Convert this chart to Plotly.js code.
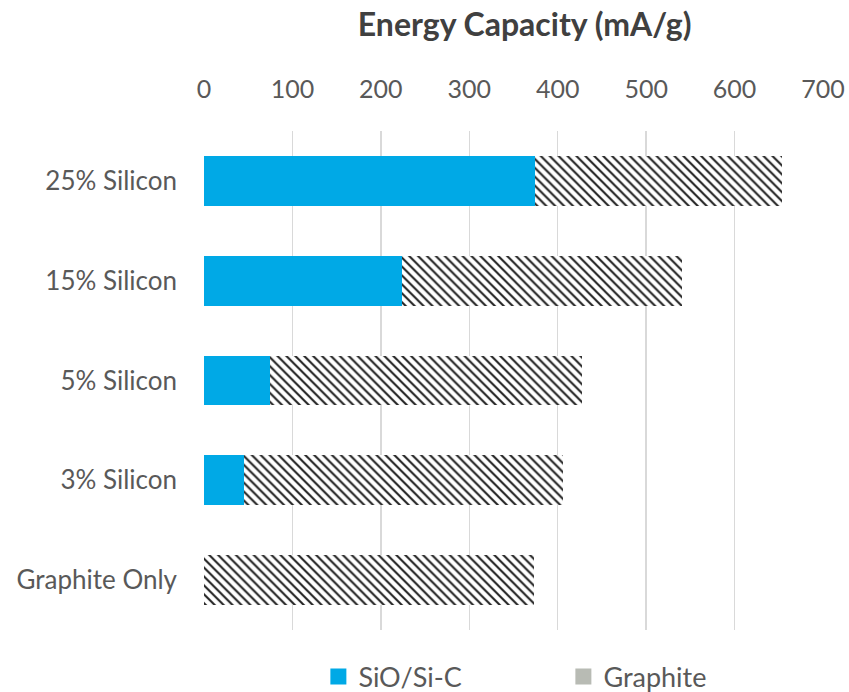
<!DOCTYPE html>
<html>
<head>
<meta charset="utf-8">
<script src="https://cdn.plot.ly/plotly-3.0.1.min.js"></script>
<style>
  html, body { margin: 0; padding: 0; background: #ffffff; }
  #chart { width: 849px; height: 692px; }
</style>
</head>
<body>
<div id="chart"></div>
<script>
// Samples, listed bottom to top as Plotly places horizontal categories
const categories = ['Graphite Only', '3% Silicon', '5% Silicon', '15% Silicon', '25% Silicon'];
// Capacity contributed by the silicon phase (mA/g)
const sioValues = [0, 45, 75, 224, 374];
// Capacity contributed by graphite (mA/g)
const graphiteValues = [373, 361, 353, 317, 280];
const xTicks = [0, 100, 200, 300, 400, 500, 600, 700];

const blue = '#00a9e6';
const legendGray = '#b8bbb4';
const font = 'Lato, "Open Sans", sans-serif';

const traces = [
  {
    type: 'bar', orientation: 'h', name: 'SiO/Si-C',
    y: categories, x: sioValues,
    marker: { color: blue, line: { width: 0 } },
    showlegend: false, hoverinfo: 'x+name'
  },
  {
    type: 'bar', orientation: 'h', name: 'Graphite',
    y: categories, x: graphiteValues,
    marker: {
      color: '#ffffff',
      line: { width: 0 },
      pattern: { shape: '\\', fgcolor: '#1e1e1e', bgcolor: '#ffffff', size: 6.3, solidity: 0.32, fillmode: 'replace' }
    },
    showlegend: false, hoverinfo: 'x+name'
  },
  // legend keys (solid squares)
  {
    type: 'scatter', mode: 'markers', name: 'SiO/Si-C',
    x: [null], y: [null],
    marker: { symbol: 'square', size: 16, color: blue },
    hoverinfo: 'skip'
  },
  {
    type: 'scatter', mode: 'markers', name: 'Graphite',
    x: [null], y: [null],
    marker: { symbol: 'square', size: 16, color: legendGray },
    hoverinfo: 'skip'
  }
];

const layout = {
  width: 849, height: 692,
  margin: { l: 203.5, r: 25.7, t: 131, b: 62, pad: 0 },
  paper_bgcolor: '#ffffff', plot_bgcolor: '#ffffff',
  barmode: 'stack', bargap: 0.5,
  font: { family: font, color: '#595959' },
  title: {
    text: '<b>Energy Capacity (mA/g)</b>',
    font: { family: font, size: 32, color: '#404040' },
    xref: 'container', x: 0.618, xanchor: 'center',
    yref: 'container', y: 0.964, yanchor: 'middle'
  },
  xaxis: {
    side: 'top', range: [0, 700],
    tickvals: xTicks, ticktext: xTicks.map(String),
    showgrid: true, gridcolor: '#d9d9d9', gridwidth: 1.5,
    zeroline: false, showline: false, ticks: '',
    ticklabelstandoff: 27,
    tickfont: { family: font, size: 25, color: '#595959' },
    fixedrange: true
  },
  yaxis: {
    type: 'category', categoryorder: 'array', categoryarray: categories,
    range: [-0.5, 4.5],
    showgrid: false, zeroline: false, showline: false, ticks: '',
    ticklabelstandoff: 26,
    tickfont: { family: font, size: 26, color: '#595959' },
    fixedrange: true
  },
  legend: {
    orientation: 'h', traceorder: 'normal',
    xref: 'container', x: 0.375, xanchor: 'left',
    yref: 'container', y: 0.0217, yanchor: 'middle',
    entrywidth: 200, entrywidthmode: 'pixels',
    font: { family: font, size: 27, color: '#595959' },
    bgcolor: 'rgba(0,0,0,0)', borderwidth: 0
  },
  showlegend: true
};

Plotly.newPlot('chart', traces, layout, { displayModeBar: false, staticPlot: true });
</script>
</body>
</html>
